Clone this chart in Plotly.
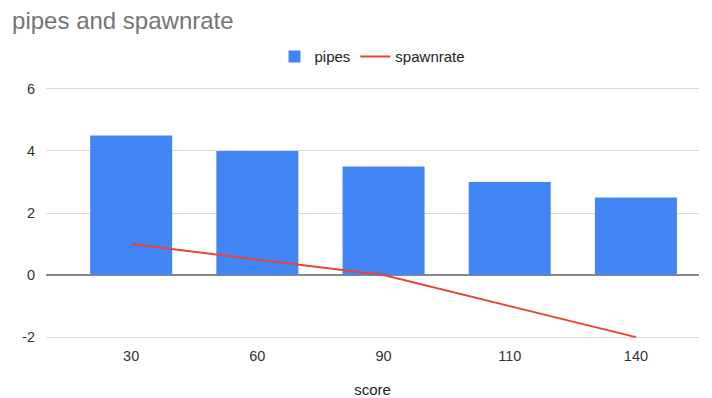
import plotly.graph_objects as go

# Data
scores = ["30", "60", "90", "110", "140"]
pipes = [4.5, 4, 3.5, 3, 2.5]
spawnrate = [1, 0.5, 0, -1, -2]
y_ticks = [-2, 0, 2, 4, 6]
y_tick_labels = ["-2", "0", "2", "4", "6"]

FONT = "Liberation Sans, Arial, sans-serif"

fig = go.Figure()
fig.add_trace(go.Bar(
    x=scores, y=pipes, name="pipes",
    marker=dict(color="#4285f4", line=dict(width=0)),
))
fig.add_trace(go.Scatter(
    x=scores, y=spawnrate, name="spawnrate", mode="lines",
    line=dict(color="#ea4335", width=2),
))

fig.update_layout(
    width=712, height=398,
    margin=dict(l=46, r=13, t=87, b=59, autoexpand=False),
    paper_bgcolor="white", plot_bgcolor="white",
    font=dict(family=FONT, size=13, color="#222222"),
    title=dict(
        text="pipes and spawnrate",
        x=0.017, xanchor="left", y=0.948, yanchor="middle",
        font=dict(family=FONT, size=24, color="#757575"),
    ),
    legend=dict(
        orientation="h", x=0.5, xanchor="center", y=1.12, yanchor="middle",
        font=dict(family=FONT, size=15, color="#222222"),
    ),
    bargap=0.35,
    showlegend=True,
)
fig.update_xaxes(
    type="category", range=[-0.675, 4.5],
    showgrid=False, showline=False, ticks="",
    ticklabelstandoff=6, automargin=False,
    title=dict(text="score", font=dict(family=FONT, size=15, color="#222222"), standoff=28),
    tickfont=dict(family=FONT, size=14.5, color="#333333"),
)
fig.update_yaxes(
    range=[-2.06, 6.06], tickmode="array",
    tickvals=y_ticks, ticktext=y_tick_labels,
    showgrid=True, gridcolor="#d9d9d9", gridwidth=1,
    zeroline=True, zerolinecolor="#888888", zerolinewidth=1.5,
    ticks="", ticklabelstandoff=10, automargin=False,
    tickfont=dict(family=FONT, size=14.5, color="#333333"),
)

fig.write_html("out.html")
